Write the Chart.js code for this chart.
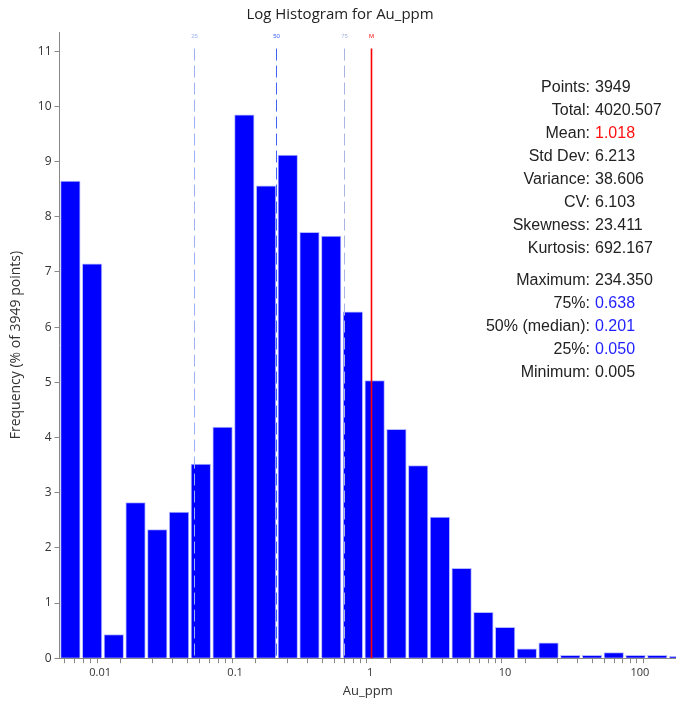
<!DOCTYPE html>
<html>
<head>
<meta charset="utf-8">
<script src="https://cdn.jsdelivr.net/npm/chart.js@4.4.1/dist/chart.umd.min.js"></script>
<style>
    html, body { margin: 0; padding: 0; background: #fff; }
    #chart { position: relative; width: 676px; height: 705px; }
</style>
</head>
<body>
<div id="chart"><canvas id="myChart"></canvas></div>
<script>
// bin edges in ppm (29 log-spaced bins between minimum and maximum)
const binEdges = [0.005, 0.00724, 0.0105, 0.0152, 0.0220, 0.0319, 0.0463, 0.0671, 0.0972,
    0.141, 0.204, 0.296, 0.428, 0.620, 0.899, 1.303, 1.888, 2.736, 3.964, 5.743, 8.324,
    12.06, 17.47, 25.32, 36.69, 53.16, 77.02, 111.6, 161.7, 234.35];

// frequency, % of points
const freq = [8.65, 7.15, 0.43, 2.82, 2.33, 2.65, 3.52, 4.19, 9.85, 8.56, 9.12, 7.72, 7.65,
    6.28, 5.03, 4.15, 3.49, 2.56, 1.63, 0.83, 0.56, 0.17, 0.28, 0.05, 0.05, 0.10, 0.05, 0.05, 0.03];

const statLabels = ['Points:', 'Total:', 'Mean:', 'Std Dev:', 'Variance:', 'CV:', 'Skewness:', 'Kurtosis:',
    'Maximum:', '75%:', '50% (median):', '25%:', 'Minimum:'];
const statValues = ['3949', '4020.507', '1.018', '6.213', '38.606', '6.103', '23.411', '692.167',
    '234.350', '0.638', '0.201', '0.050', '0.005'];

const markers = [
    { label: '25', value: 0.050, color: '#9db2f6', dash: [12, 5], width: 1 },
    { label: '50', value: 0.201, color: '#3f63f5', dash: [12, 5], width: 1 },
    { label: '75', value: 0.638, color: '#a9b4e2', dash: [12, 5], width: 1 },
    { label: 'M', value: 1.018, color: '#ff0000', dash: [], width: 1.6 }
];

const xTicks = [];
[0.001, 0.01, 0.1, 1, 10, 100].forEach(d => {
    for (let m = 1; m < 10; m++) xTicks.push(+(m * d).toPrecision(3));
});

const points = freq.map((f, i) => ({ x: Math.sqrt(binEdges[i] * binEdges[i + 1]), y: f }));

const overlay = {
    id: 'overlay',
    afterDatasetsDraw(chart) {
        const ctx = chart.ctx;
        const xs = chart.scales.x, ys = chart.scales.y;
        ctx.save();
        markers.forEach(m => {
            const px = Math.round(xs.getPixelForValue(m.value)) + 0.5;
            ctx.strokeStyle = m.color;
            ctx.lineWidth = m.width;
            ctx.setLineDash(m.dash);
            ctx.beginPath();
            ctx.moveTo(px, ys.getPixelForValue(11.05));
            ctx.lineTo(px, ys.getPixelForValue(0));
            ctx.stroke();
            ctx.setLineDash([]);
            ctx.fillStyle = m.color;
            ctx.font = '6px "Liberation Sans"';
            ctx.textAlign = 'center';
            ctx.textBaseline = 'middle';
            ctx.fillText(m.label, px, 36);
        });

        // stats block
        ctx.font = '16px "Liberation Sans"';
        ctx.textBaseline = 'middle';
        statLabels.forEach((lab, i) => {
            const y = 88 + i * 23 + (i >= 8 ? 9 : 0);
            ctx.textAlign = 'right';
            ctx.fillStyle = '#222';
            ctx.fillText(lab, 590, y);
            ctx.textAlign = 'left';
            let c = '#222';
            if (lab === 'Mean:') c = '#ff1010';
            if (lab === '75%:' || lab === '50% (median):' || lab === '25%:') c = '#1f1fff';
            ctx.fillStyle = c;
            ctx.fillText(statValues[i], 595, y);
        });
        ctx.restore();
    }
};

new Chart(document.getElementById('myChart'), {
    type: 'bar',
    data: {
        datasets: [{
            data: points,
            backgroundColor: '#0000ff',
            borderColor: '#b3b8ff',
            borderWidth: 1,
            barThickness: 'flex',
            barPercentage: 0.9,
            categoryPercentage: 1
        }]
    },
    options: {
        responsive: true,
        maintainAspectRatio: false,
        animation: false,
        layout: { padding: { top: 3, right: 0, left: 4, bottom: 2 } },
        plugins: {
            legend: { display: false },
            tooltip: { enabled: false },
            title: {
                display: true,
                text: 'Log Histogram for Au_ppm',
                color: '#222',
                font: { family: 'Open Sans', size: 15, weight: 'normal' },
                padding: { top: 3, bottom: 8 }
            }
        },
        scales: {
            x: {
                type: 'logarithmic',
                min: 0.005,
                max: 185,
                afterBuildTicks: scale => {
                    scale.ticks = xTicks.filter(v => v >= 0.005 && v <= 185).map(v => ({ value: v }));
                },
                grid: { drawOnChartArea: false, tickLength: 5, color: '#888' },
                border: { color: '#888' },
                ticks: {
                    autoSkip: false,
                    maxRotation: 0,
                    padding: 3,
                    color: '#333',
                    font: { family: 'Open Sans', size: 11 },
                    callback: v => {
                        const l = Math.log10(v);
                        if (Math.abs(l - Math.round(l)) > 1e-6) return '';
                        return String(+v.toPrecision(1));
                    }
                },
                title: {
                    display: true,
                    text: 'Au_ppm',
                    color: '#333',
                    font: { family: 'Open Sans', size: 13 },
                    padding: { top: 1 }
                }
            },
            y: {
                min: 0,
                max: 11.35,
                afterBuildTicks: scale => {
                    scale.ticks = [0, 1, 2, 3, 4, 5, 6, 7, 8, 9, 10, 11].map(v => ({ value: v }));
                },
                grid: { drawOnChartArea: false, tickLength: 5, color: '#888' },
                border: { color: '#888' },
                ticks: {
                    color: '#333',
                    font: { family: 'Open Sans', size: 12 }
                },
                title: {
                    display: true,
                    text: 'Frequency (% of 3949 points)',
                    color: '#333',
                    font: { family: 'Open Sans', size: 14 },
                    padding: { bottom: 10 }
                }
            }
        }
    },
    plugins: [overlay]
});
</script>
</body>
</html>
